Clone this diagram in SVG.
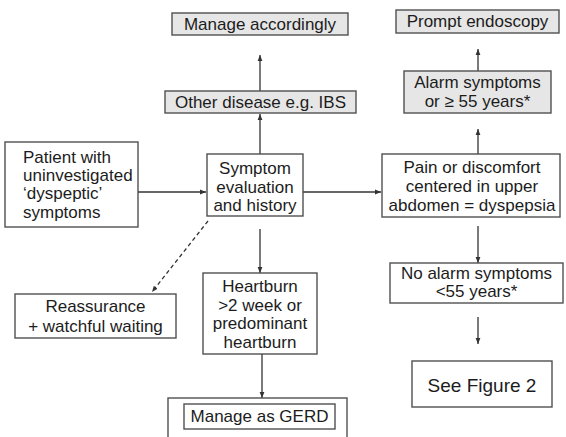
<svg xmlns="http://www.w3.org/2000/svg" width="566" height="437" viewBox="0 0 566 437">
  <defs>
    <marker id="arrow" viewBox="0 0 6 6" refX="6" refY="3" markerWidth="6" markerHeight="6" markerUnits="userSpaceOnUse" orient="auto">
      <path d="M0,0.6 L6,3 L0,5.4 z" fill="#333"/>
    </marker>
    <style>
      .box { fill: #ffffff; stroke: #505050; stroke-width: 1.4; }
      .shade { fill: #e6e6e6; stroke: #505050; stroke-width: 1.4; }
      .t { font-family: "Liberation Sans", Arial, sans-serif; font-size: 17px; fill: #1c1c1c; text-anchor: middle; }
      .l { text-anchor: start; }
      .big { font-size: 19px; }
      .edge { stroke: #333; stroke-width: 1.3; fill: none; marker-end: url(#arrow); }
      .dash { stroke-dasharray: 4 3; }
    </style>
  </defs>
  <rect width="566" height="437" fill="#ffffff"/>

  <g id="connectors">
    <line class="edge" x1="138" y1="192" x2="206" y2="192"/>
    <line class="edge" x1="303" y1="192" x2="381" y2="192"/>
    <line class="edge" x1="260" y1="154" x2="260" y2="114"/>
    <line class="edge" x1="260" y1="91" x2="260" y2="55"/>
    <line class="edge" x1="478" y1="154" x2="478" y2="129"/>
    <line class="edge" x1="478" y1="71" x2="478" y2="49"/>
    <line class="edge" x1="478" y1="226" x2="478" y2="263"/>
    <line class="edge" x1="478" y1="317" x2="478" y2="344"/>
    <line class="edge" x1="260" y1="229" x2="260" y2="273"/>
    <line class="edge" x1="262" y1="354" x2="262" y2="398"/>
    <line class="edge dash" x1="208" y1="221" x2="152" y2="292"/>
  </g>

  <g id="manage-accordingly">
    <rect class="shade" x="172" y="13" width="176" height="22"/>
    <text class="t" x="260" y="30">Manage accordingly</text>
  </g>

  <g id="prompt-endoscopy">
    <rect class="shade" x="396" y="10" width="163" height="23"/>
    <text class="t" x="477.5" y="27">Prompt endoscopy</text>
  </g>

  <g id="other-disease">
    <rect class="shade" x="165" y="91" width="191" height="22"/>
    <text class="t" x="260.5" y="108">Other disease e.g. IBS</text>
  </g>

  <g id="alarm-symptoms">
    <rect class="shade" x="404" y="71" width="147" height="42"/>
    <text class="t" x="477.5" y="88">Alarm symptoms</text>
    <text class="t" x="477.5" y="107">or ≥ 55 years*</text>
  </g>

  <g id="patient">
    <rect class="box" x="5" y="142" width="133" height="85"/>
    <text class="t l" x="23" y="163">Patient with</text>
    <text class="t l" x="23" y="181">uninvestigated</text>
    <text class="t l" x="23" y="199">‘dyspeptic’</text>
    <text class="t l" x="23" y="218">symptoms</text>
  </g>

  <g id="symptom-evaluation">
    <rect class="box" x="207" y="154" width="96" height="62"/>
    <text class="t" x="255" y="174">Symptom</text>
    <text class="t" x="255" y="193">evaluation</text>
    <text class="t" x="255" y="211">and history</text>
  </g>

  <g id="dyspepsia">
    <rect class="box" x="382" y="154" width="178" height="63"/>
    <text class="t" x="472" y="173">Pain or discomfort</text>
    <text class="t" x="472" y="192">centered in upper</text>
    <text class="t" x="472" y="211">abdomen = dyspepsia</text>
  </g>

  <g id="reassurance">
    <rect class="box" x="15" y="294" width="161" height="44"/>
    <text class="t" x="95.5" y="312">Reassurance</text>
    <text class="t" x="95.5" y="332">+ watchful waiting</text>
  </g>

  <g id="heartburn">
    <rect class="box" x="203" y="273" width="114" height="81"/>
    <text class="t" x="260" y="292">Heartburn</text>
    <text class="t" x="260" y="311">&gt;2 week or</text>
    <text class="t" x="260" y="329">predominant</text>
    <text class="t" x="260" y="348">heartburn</text>
  </g>

  <g id="manage-gerd">
    <rect class="box" x="168" y="398" width="179" height="50"/>
    <rect class="box" x="184" y="404" width="151" height="25"/>
    <text class="t" x="259.5" y="422">Manage as GERD</text>
  </g>

  <g id="no-alarm">
    <rect class="box" x="390" y="263" width="173" height="40"/>
    <text class="t" x="476.5" y="279">No alarm symptoms</text>
    <text class="t" x="476.5" y="297">&lt;55 years*</text>
  </g>

  <g id="see-figure-2">
    <rect class="box" x="412" y="361" width="140" height="46"/>
    <text class="t big" x="482" y="392">See Figure 2</text>
  </g>
</svg>
